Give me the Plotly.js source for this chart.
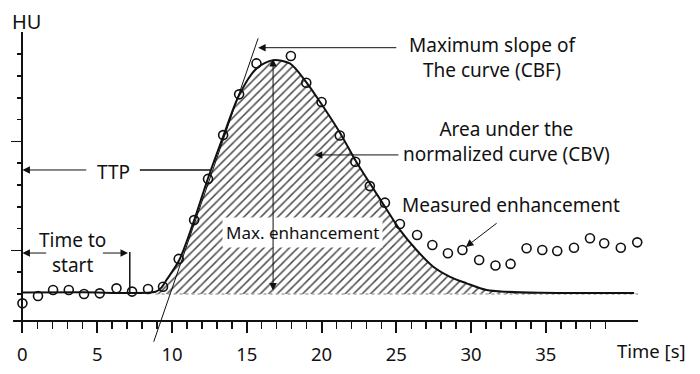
<!DOCTYPE html>
<html><head><meta charset="utf-8">
<script src="https://cdn.plot.ly/plotly-3.0.1.min.js"></script>
<style>html,body{margin:0;padding:0;background:#fff}#chart{width:700px;height:374px}</style>
</head><body><div id="chart"></div>
<script>
// Measured enhancement (open circles), time in s, HU relative to baseline
const measuredTime = [0.00,1.04,2.05,3.10,4.12,5.17,6.29,7.33,8.40,9.40,10.45,11.48,12.41,13.42,14.49,15.65,17.95,18.98,20.00,21.22,22.26,23.23,24.24,25.24,26.39,27.41,28.45,29.42,30.54,31.63,32.64,33.71,34.76,35.76,36.88,37.95,38.90,40.01,41.11];
const measuredHU   = [-4.3,-0.9,1.8,1.8,0.0,0.3,2.6,1.1,2.3,3.3,16.1,33.9,52.8,72.9,91.6,105.8,109.2,96.9,88.1,72.7,60.7,49.5,41.9,32.1,27.1,22.5,18.7,20.2,15.6,13.1,13.8,21.0,20.2,19.7,21.2,25.6,23.3,21.2,23.7];
// Fitted (normalized) curve
const fitTime = [0,4,8.9,9.3,9.63,10.49,11.41,12.41,13.42,14.49,15.65,16.76,17.88,19.0,19.95,21.22,22.29,23.23,24.24,25.24,26.35,27.47,28.59,29.70,31.04,32.4,34.6,40.9];
const fitHU   = [0.7,0.8,1.0,3.0,6.4,15.6,32.4,53.1,72.2,91.3,103.5,107.3,105.8,97.0,87.6,74.1,61.0,50.8,40.0,29.4,20.2,12.5,7.9,4.9,1.8,1.0,0.6,0.5];
// Axis ticks
const xTickVals = [0,5,10,15,20,25,30,35];
const xTickText = ['0','5','10','15','20','25','30','35'];
const xMinorTicks = [1,2,3,4,6,7,8,9,11,12,13,14,16,17,18,19,21,22,23,24,26,27,28,29,31,32,33,34,36,37,38,39];
const yMajorTicks = [20,70];
const yMinorTicks = [0,10,30,40,50,60,80,90,100,110];

const XR = [-0.63, 41.16], YR = [-11.93, 120.2];
const toPX = x => (x - XR[0]) / (XR[1] - XR[0]);
const toPY = y => (y - YR[0]) / (YR[1] - YR[0]);
const FONT = 'Noto Sans, Open Sans, sans-serif';
const INK = '#111';

const i0 = fitTime.findIndex(t => t >= 8.9);

const traces = [
  { x: fitTime.slice(i0), y: fitHU.slice(i0), type: 'scatter', mode: 'lines',
    line: { width: 0, shape: 'spline' }, fill: 'tozeroy', fillcolor: 'white',
    fillpattern: { shape: '/', size: 6, solidity: 0.25, fgcolor: '#4a4a4a', bgcolor: 'white' },
    hoverinfo: 'skip', showlegend: false },
  { x: [fitTime[i0], XR[1]], y: [0, 0], type: 'scatter', mode: 'lines',
    line: { color: '#aaa', width: 1.5, dash: 'dot' }, showlegend: false },
  { x: fitTime, y: fitHU, type: 'scatter', mode: 'lines',
    line: { color: INK, width: 2, shape: 'spline', smoothing: 0.8 }, showlegend: false },
  { x: measuredTime, y: measuredHU, type: 'scatter', mode: 'markers', cliponaxis: false,
    marker: { symbol: 'circle-open', size: 9, color: INK, line: { width: 1.6, color: INK } },
    showlegend: false }
];

const arrow = (x, y, ax, ay, extra) => Object.assign({
  x, y, ax, ay, xref: 'x', yref: 'y', axref: 'x', ayref: 'y', text: '',
  showarrow: true, arrowhead: 2, arrowsize: 1.5, arrowwidth: 1, arrowcolor: INK
}, extra || {});
const label = (x, y, text, extra) => Object.assign({
  x, y, xref: 'x', yref: 'y', text, showarrow: false,
  font: { family: FONT, size: 19, color: INK }, xanchor: 'center', yanchor: 'middle'
}, extra || {});

const annotations = [
  { x: toPX(0.29), y: toPY(125.2), xref: 'paper', yref: 'paper', text: 'HU', showarrow: false,
    font: { family: FONT, size: 20, color: INK }, xanchor: 'center', yanchor: 'middle' },
  { x: toPX(42.09), y: toPY(-25.7), xref: 'paper', yref: 'paper', text: 'Time [s]', showarrow: false,
    font: { family: FONT, size: 18.5, color: INK }, xanchor: 'center', yanchor: 'middle' },
  label(31.46, 108.5, 'Maximum slope of<br>The curve (CBF)'),
  arrow(15.76, 113.0, 25.1, 113.0),
  label(32.4, 69.9, 'Area under the<br>normalized curve (CBV)'),
  arrow(19.55, 63.8, 25.24, 63.8),
  label(32.66, 40.7, 'Measured enhancement'),
  arrow(29.65, 21.6, 31.81, 33.0),
  label(6.11, 56.1, 'TTP'),
  arrow(0, 56.9, 4.37, 56.9),
  label(3.36, 18.9, 'Time to<br>start'),
  arrow(0, 18.8, 1.69, 18.8),
  arrow(7.06, 18.8, 5.28, 18.8),
  label(18.76, 28.4, 'Max. enhancement', { font: { family: FONT, size: 17, color: INK }, bgcolor: 'white', borderpad: 3 }),
  arrow(16.76, 107.8, 16.76, 0.9, { arrowside: 'end+start' })
];

const shapes = [
  // tangent (maximum slope)
  { type: 'line', xref: 'paper', yref: 'paper', x0: toPX(15.76), y0: toPY(117.3), x1: toPX(8.78), y1: toPY(-21.9),
    line: { color: INK, width: 1 } },
  // TTP line to curve
  { type: 'line', xref: 'x', yref: 'y', x0: 7.85, y0: 56.9, x1: 12.6, y1: 56.9, line: { color: INK, width: 1.5 } },
  // time-to-start marker
  { type: 'line', xref: 'x', yref: 'y', x0: 7.18, y0: 19.3, x1: 7.18, y1: 0.2, line: { color: INK, width: 1.5 } }
];

const layout = {
  width: 700, height: 374,
  margin: { l: 13, r: 62, t: 32, b: 54 },
  paper_bgcolor: 'white', plot_bgcolor: 'white',
  showlegend: false,
  font: { family: FONT, color: INK },
  xaxis: {
    range: XR, showgrid: false, zeroline: false, showline: true, linecolor: INK, linewidth: 2,
    tickmode: 'array', tickvals: xTickVals, ticktext: xTickText,
    ticks: 'outside', ticklen: 11, tickwidth: 2, tickcolor: INK, ticklabelstandoff: 6,
    tickfont: { family: FONT, size: 18.5, color: INK },
    minor: { tickmode: 'array', tickvals: xMinorTicks, ticks: 'outside', ticklen: 7, tickwidth: 1.5, tickcolor: INK, showgrid: false }
  },
  yaxis: {
    range: YR, anchor: 'free', position: toPX(0), showgrid: false, zeroline: false,
    showline: true, linecolor: INK, linewidth: 2, showticklabels: false,
    tickmode: 'array', tickvals: yMajorTicks, ticks: 'outside', ticklen: 10, tickwidth: 1.5, tickcolor: INK,
    minor: { tickmode: 'array', tickvals: yMinorTicks, ticks: 'outside', ticklen: 4, tickwidth: 1.5, tickcolor: INK, showgrid: false }
  },
  annotations, shapes
};

Plotly.newPlot('chart', traces, layout, { staticPlot: true, displayModeBar: false });
</script>
</body></html>
